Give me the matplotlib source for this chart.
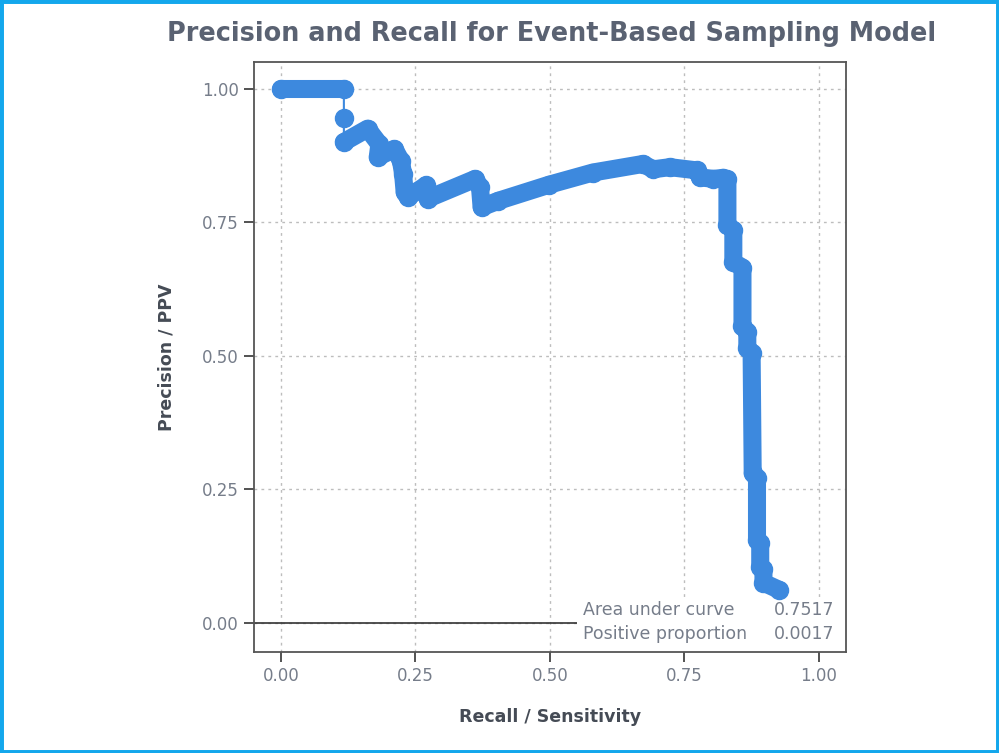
import numpy as np
import matplotlib.pyplot as plt
from matplotlib.patches import Rectangle

plt.rcParams['font.family'] = ['DejaVu Sans']

# ==================== 数据 ====================
recall = [0.000, 0.117, 0.117, 0.117, 0.161, 0.183, 0.180, 0.211, 0.223, 0.227,
          0.230, 0.236, 0.270, 0.273, 0.361, 0.370, 0.373, 0.404, 0.498, 0.580,
          0.673, 0.692, 0.723, 0.773, 0.779, 0.804, 0.822, 0.830, 0.830, 0.841,
          0.841, 0.858, 0.858, 0.867, 0.867, 0.875, 0.877, 0.885, 0.885, 0.891,
          0.891, 0.897, 0.897, 0.925]
precision = [1.000, 1.000, 0.946, 0.900, 0.925, 0.896, 0.872, 0.887, 0.865, 0.841,
             0.806, 0.797, 0.819, 0.794, 0.831, 0.816, 0.778, 0.790, 0.820, 0.843,
             0.859, 0.849, 0.853, 0.847, 0.834, 0.831, 0.833, 0.830, 0.745, 0.735,
             0.675, 0.665, 0.555, 0.545, 0.515, 0.505, 0.280, 0.270, 0.155, 0.150,
             0.105, 0.100, 0.075, 0.062]
auc = 0.7517
pos_prop = 0.0017
ticks = [0.0, 0.25, 0.5, 0.75, 1.0]

blue = '#3d89de'
gray_txt = '#767d8a'
dark_txt = '#454b55'

fig = plt.figure(figsize=(9.99, 7.53), dpi=100)
ax = fig.add_axes([0.2543, 0.1341, 0.5923, 0.7836])

r = np.array(recall)
p = np.array(precision)

# 细线 + 标记
ax.plot(r, p, color=blue, lw=1.5, marker='o', ms=13, zorder=5)
# 粗带（顶部平台与后续曲线）
for sl in (slice(0, 2), slice(3, None)):
    ax.plot(r[sl], p[sl], color=blue, lw=13, solid_joinstyle='round',
            solid_capstyle='round', zorder=5)

ax.axhline(0, color='#333333', lw=1.2, zorder=2)

ax.set_xlim(-0.05, 1.05)
ax.set_ylim(-0.055, 1.05)
ax.set_xticks(ticks)
ax.set_yticks(ticks)
ax.set_xticklabels([f'{t:.2f}' for t in ticks])
ax.set_yticklabels([f'{t:.2f}' for t in ticks])
ax.grid(True, color='#bdbdbd', linestyle=(0, (2, 3)), lw=1)
ax.set_axisbelow(True)
ax.tick_params(length=7, width=1.3, color='#444444', labelcolor=gray_txt,
               labelsize=12, pad=4)
for s in ax.spines.values():
    s.set_color('#555555')
    s.set_linewidth(1.3)
    s.set_zorder(6)

# 统计信息框
ax.add_patch(Rectangle((0.546, 0.0), 0.454, 0.088, transform=ax.transAxes,
                       facecolor='white', edgecolor='none', zorder=2.2))
ax.text(0.556, 0.071, 'Area under curve', transform=ax.transAxes, ha='left',
        va='center', color=gray_txt, fontsize=12.5, zorder=4)
ax.text(0.556, 0.030, 'Positive proportion', transform=ax.transAxes, ha='left',
        va='center', color=gray_txt, fontsize=12.5, zorder=4)
ax.text(0.98, 0.071, f'{auc:.4f}', transform=ax.transAxes, ha='right',
        va='center', color=gray_txt, fontsize=12.5, zorder=4)
ax.text(0.98, 0.030, f'{pos_prop:.4f}', transform=ax.transAxes, ha='right',
        va='center', color=gray_txt, fontsize=12.5, zorder=4)

ax.set_xlabel('Recall / Sensitivity', fontsize=12.5, fontweight='bold',
              color=dark_txt, labelpad=16)
ax.set_ylabel('Precision / PPV', fontsize=12.5, fontweight='bold',
              color=dark_txt, labelpad=19)

fig.text(0.552, 0.955, 'Precision and Recall for Event-Based Sampling Model',
         ha='center', va='center', fontsize=18.4, fontweight='bold',
         color='#5a6272')

# 外框
fig.add_artist(Rectangle((0, 0), 1, 1, transform=fig.transFigure, fill=False,
                         edgecolor='#13a7ec', lw=5, zorder=10))

plt.savefig('out.png', dpi=100)
